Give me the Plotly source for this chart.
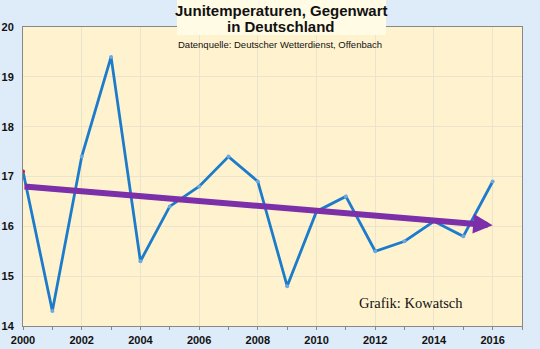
import plotly.graph_objects as go

years = list(range(2000, 2017))
temps = [17.1, 14.3, 17.4, 19.4, 15.3, 16.4, 16.8, 17.4, 16.9, 14.8,
         16.3, 16.6, 15.5, 15.7, 16.1, 15.8, 16.9]
trend_x = [2000, 2016]
trend_y = [16.8, 16.02]
x_ticks = list(range(2000, 2017, 2))
y_ticks = list(range(14, 21))

L, R, T, B = 23, 18, 27, 23
W, H = 540, 349
pw, ph = W - L - R, H - T - B

def px(x):
    return (x - L) / pw

def py(y):
    return (H - y - B) / ph

fig = go.Figure()
fig.add_trace(go.Scatter(
    x=years, y=temps, mode="lines+markers",
    line=dict(color="#1C7CCB", width=2.8),
    marker=dict(size=4, color="#6FA8DC", line=dict(width=0)),
    showlegend=False, hoverinfo="skip"))
fig.add_trace(go.Scatter(
    x=[years[0]], y=[temps[0]], mode="markers",
    marker=dict(size=4, color="#D0203A"), showlegend=False, hoverinfo="skip"))

# trend arrow
fig.add_annotation(
    x=trend_x[1], y=trend_y[1], ax=trend_x[0], ay=trend_y[0],
    xref="x", yref="y", axref="x", ayref="y",
    showarrow=True, arrowhead=2, arrowsize=0.65, arrowwidth=6,
    arrowcolor="#7B2FA8", text="", standoff=0)

# title box
fig.add_shape(type="rect", xref="paper", yref="paper",
              x0=px(177), x1=px(386), y0=py(35), y1=py(0),
              fillcolor="#FFFBE4", line=dict(width=0), layer="above")

fig.add_annotation(
    x=px(281), y=py(0), xref="paper", yref="paper", showarrow=False,
    text="<b>Junitemperaturen, Gegenwart</b>",
    font=dict(family="Liberation Sans, Arial", size=15, color="#111111"),
    xanchor="center", yanchor="top")
fig.add_annotation(
    x=px(281), y=py(16), xref="paper", yref="paper", showarrow=False,
    text="<b>in Deutschland</b>",
    font=dict(family="Liberation Sans, Arial", size=15, color="#111111"),
    xanchor="center", yanchor="top")
fig.add_annotation(
    x=px(176), y=py(37), xref="paper", yref="paper", showarrow=False,
    text="Datenquelle: Deutscher Wetterdienst, Offenbach",
    font=dict(family="Liberation Sans, Arial", size=9.5, color="#111111"),
    xanchor="left", yanchor="top")
fig.add_annotation(
    x=px(357), y=py(293), xref="paper", yref="paper", showarrow=False,
    text="Grafik: Kowatsch",
    font=dict(family="Liberation Serif, Times New Roman", size=14.5, color="#111111"),
    xanchor="left", yanchor="top")

fig.update_layout(
    width=W, height=H,
    margin=dict(l=L, r=R, t=T, b=B),
    paper_bgcolor="#DEEBF8",
    plot_bgcolor="#FFF3CF",
    xaxis=dict(range=[2000, 2017], tickvals=x_ticks, ticktext=[str(t) for t in x_ticks],
               tickfont=dict(family="Liberation Sans, Arial", size=11, color="#111111", weight="bold"),
               showgrid=True, gridcolor="#EBE3CB", gridwidth=1,
               showline=True, linecolor="#888888", linewidth=1, mirror=True,
               ticks="outside", ticklen=3, tickcolor="#888888", ticklabelstandoff=1,
               minor=dict(dtick=1, tick0=2000, ticks="outside", ticklen=3, tickcolor="#888888", showgrid=False),
               zeroline=False, fixedrange=True, automargin=False),
    yaxis=dict(range=[14, 20], tickvals=y_ticks, ticktext=[str(t) for t in y_ticks],
               tickfont=dict(family="Liberation Sans, Arial", size=11, color="#111111", weight="bold"),
               showgrid=True, gridcolor="#EBE3CB", gridwidth=1,
               showline=True, linecolor="#888888", linewidth=1, mirror=True,
               ticks="", ticklabelstandoff=6, zeroline=False, fixedrange=True, automargin=False),
)
fig.write_html("out.html")
